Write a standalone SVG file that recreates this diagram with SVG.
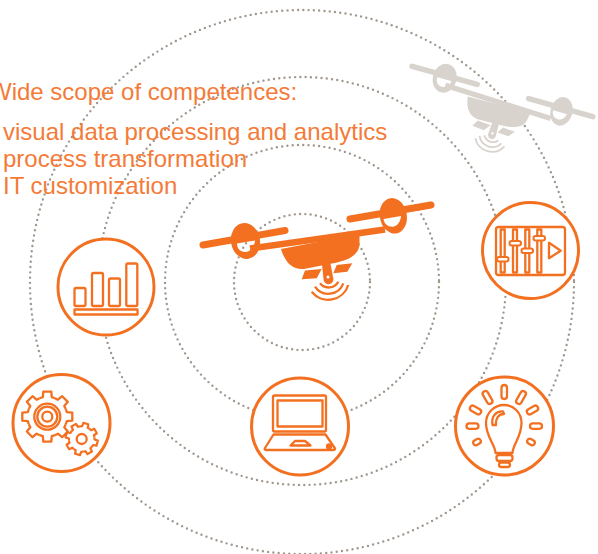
<svg xmlns="http://www.w3.org/2000/svg" xmlns:xlink="http://www.w3.org/1999/xlink" width="598" height="554" viewBox="0 0 598 554">
<style>
.orbit{fill:none;stroke:#a0988f;stroke-width:2.400;stroke-linecap:round;stroke-dasharray:0 5.300}
.disc{fill:#fff;stroke:#f37021;stroke-width:3}
.i{fill:none;stroke:#f37021;stroke-width:2.300;stroke-linejoin:round}
.t{font-family:"Liberation Sans",Arial,sans-serif;font-size:24px;fill:#f47b37}
</style>
<defs>
<g id="drone">
<path d="M203 245L285 230.500M350 219L431 205" fill="none" stroke="currentColor" stroke-width="7" stroke-linecap="round"/>
<path d="M250 248.500L385 229.500" fill="none" stroke="currentColor" stroke-width="6.500"/>
<path fill-rule="evenodd" fill="currentColor" d="M231.200 243.500A14.500 18 -10 1 1 259.800 238.500A14.500 18 -10 1 1 231.200 243.500ZM237 243.500L255 240.500C254.500 247 251 252 245 252C240 252 237 248 237 243.500Z"/>
<path fill-rule="evenodd" fill="currentColor" d="M380 218.100A13.500 17.500 -10 1 1 406.600 213.500A13.500 17.500 -10 1 1 380 218.100ZM383.500 219L401 216C400.500 222 397 226.700 392.500 226.700C387.500 226.700 384 223.500 383.500 219Z"/>
<path d="M281 249L359.500 234V245C358.500 255 348 260 337 262.500L304 269C292 270 285 262 281 249Z" fill="currentColor"/>
<path d="M305 270.500L321.700 269L316.700 278.300L301.700 279.300ZM336.700 265L352.300 263.300L347.300 271.700L333.300 273.300Z" fill="currentColor"/>
<path d="M321.700 262L330 261L333 277A5 5 0 1 1 323.500 279Z" fill="currentColor"/>
<circle cx="328" cy="277" r="1.500" fill="#fff"/>
<path d="M320 283.300A11 11 0 0 0 338.300 281.700M315 286.700A16 16 0 0 0 343.300 283.300M311.700 291.700A21 21 0 0 0 348.300 285" fill="none" stroke="currentColor" stroke-width="2.300"/>
</g>
<path id="tooth" d="M-7.650-18.480L-4.500-19.500L-4-25H4L4.500-19.500L7.650-18.480"/>
<g id="gear">
<use xlink:href="#tooth"/>
<use xlink:href="#tooth" transform="rotate(45)"/>
<use xlink:href="#tooth" transform="rotate(90)"/>
<use xlink:href="#tooth" transform="rotate(135)"/>
<use xlink:href="#tooth" transform="rotate(180)"/>
<use xlink:href="#tooth" transform="rotate(225)"/>
<use xlink:href="#tooth" transform="rotate(270)"/>
<use xlink:href="#tooth" transform="rotate(315)"/>
</g>
</defs>
<g id="connectors">
<circle class="orbit" cx="302" cy="282" r="68"/>
<circle class="orbit" cx="302" cy="282" r="137"/>
<circle class="orbit" cx="302" cy="281" r="204"/>
<circle class="orbit" cx="302" cy="282" r="272"/>
</g>
<g id="drone-grey" color="#d9d3ce"><use xlink:href="#drone" transform="translate(502.500 91.500) rotate(25.500) scale(.81) translate(-317 -225)"/></g>
<g id="drone-main" color="#f37021"><use xlink:href="#drone"/></g>
<g id="node-chart">
<circle class="disc" cx="106" cy="287" r="48"/>
<g class="i">
<rect x="74.500" y="288" width="11" height="18" rx="1.500"/>
<rect x="92" y="273" width="11" height="33" rx="1.500"/>
<rect x="109" y="278.500" width="11" height="27.500" rx="1.500"/>
<rect x="126.300" y="263.500" width="11" height="42.500" rx="1.500"/>
<rect x="74.500" y="309.500" width="63" height="5"/>
</g>
</g>
<g id="node-sliders">
<circle class="disc" cx="530.500" cy="250.500" r="48"/>
<g class="i">
<rect x="496" y="227" width="69" height="48" rx="2.500"/>
<rect x="500.700" y="229.500" width="4" height="43"/>
<rect x="513" y="229.500" width="4" height="43"/>
<rect x="525.300" y="229.500" width="4" height="43"/>
<rect x="537.300" y="229.500" width="4" height="43"/>
<path d="M549 242.700V258.300L560.700 250.700Z"/>
</g>
<g fill="#fff" stroke="#f37021" stroke-width="2">
<rect x="497" y="257" width="11.500" height="4.500" rx="2.200"/>
<rect x="509.500" y="241" width="11.500" height="4.500" rx="2.200"/>
<rect x="521.500" y="248.500" width="11.500" height="4.500" rx="2.200"/>
<rect x="533.500" y="236" width="11.500" height="4.500" rx="2.200"/>
</g>
</g>
<g id="node-bulb">
<circle class="disc" cx="504.500" cy="426" r="49"/>
<g class="i">
<path d="M495.500 453C495 444 486 437 486 423C486 413 494 405 504 405C514 405 521.500 413 521.500 423C521.500 437 513 444 512.500 453Z"/>
<path d="M492.500 425C491 416 496 411 503 411.500L504 414C499 414 495.500 418 496 425Z"/>
<rect x="496.500" y="455" width="16" height="6" rx="2.500"/>
<rect x="499" y="462.500" width="11" height="4.500" rx="2.200"/>
<rect x="501.500" y="385" width="5.500" height="14" rx="2.700"/>
<rect x="-2.700" y="-7" width="5.500" height="14" rx="2.700" transform="translate(487.500 397.500) rotate(-30)"/>
<rect x="-2.700" y="-7" width="5.500" height="14" rx="2.700" transform="translate(521 397.500) rotate(30)"/>
<rect x="-2.700" y="-6" width="5.500" height="12" rx="2.700" transform="translate(475.500 410) rotate(-60)"/>
<rect x="-2.700" y="-6" width="5.500" height="12" rx="2.700" transform="translate(532.500 410) rotate(60)"/>
<rect x="-2.700" y="-6" width="5.500" height="12" rx="2.700" transform="translate(472.500 426) rotate(90)"/>
<rect x="-2.700" y="-6" width="5.500" height="12" rx="2.700" transform="translate(536 426) rotate(90)"/>
<rect x="-2.500" y="-4" width="5" height="8" rx="2.500" transform="translate(477 442) rotate(60)"/>
<rect x="-2.500" y="-4" width="5" height="8" rx="2.500" transform="translate(531 442) rotate(-60)"/>
</g>
</g>
<g id="node-laptop">
<circle class="disc" cx="300" cy="426.500" r="48.500"/>
<g class="i">
<rect x="273" y="395.500" width="53" height="36" rx="1.500"/>
<rect x="277.500" y="400.500" width="45" height="26"/>
<path d="M273.500 434.500H325.500L335 448.500Q335 450 333 450H266Q264 450 265 448Z"/>
<path d="M290.500 445.500L295 441H305L310.500 445.500Z"/>
<circle cx="329" cy="446.500" r="2" fill="#f37021"/>
</g>
</g>
<g id="node-gears">
<circle class="disc" cx="61.500" cy="423" r="48.500"/>
<g class="i">
<use xlink:href="#gear" transform="translate(47.300 416.700)"/>
<circle cx="47.300" cy="416.700" r="13"/>
<circle cx="47.300" cy="416.700" r="10"/>
<circle cx="47.300" cy="416.700" r="5"/>
<circle cx="81.700" cy="439" r="5"/>
<use xlink:href="#gear" stroke-width="3.500" transform="translate(81.700 439) rotate(15) scale(.64)"/>
</g>
</g>
<g id="labels" class="t">
<text class="t" x="-11" y="100">Wide scope of competences:</text>
<text class="t" x="3" y="140">visual data processing and analytics</text>
<text class="t" x="3" y="167">process transformation</text>
<text class="t" x="3" y="194">IT customization</text>
</g>
</svg>
